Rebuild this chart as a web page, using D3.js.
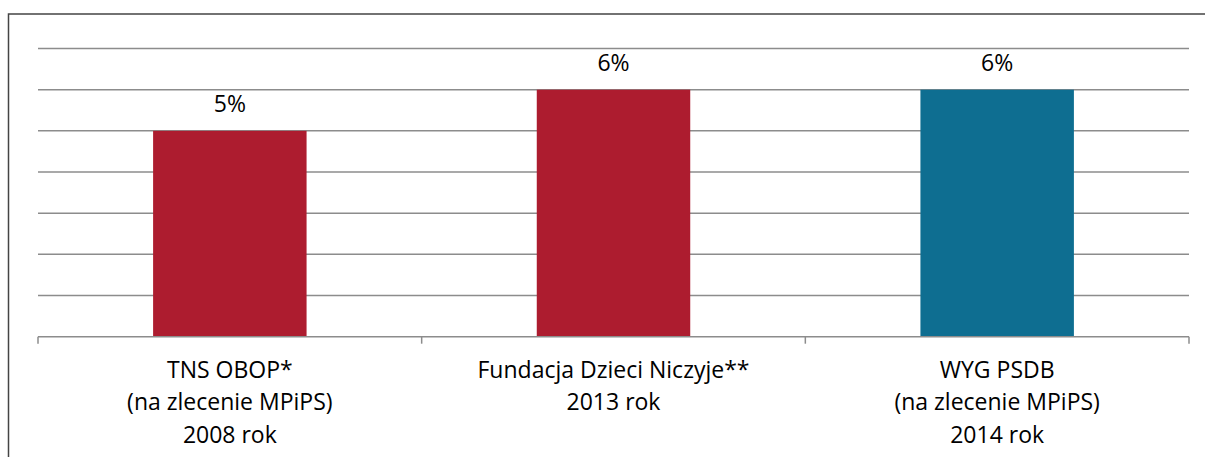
<!DOCTYPE html>
<html><head><meta charset="utf-8">
<script src="https://cdn.jsdelivr.net/npm/d3@7"></script>
<style>
html,body{margin:0;padding:0;background:#fff;}
svg{display:block;}
</style></head>
<body>
<svg id="chart" width="1205" height="457"></svg>
<script>
const categories = [
  ["TNS OBOP*", "(na zlecenie MPiPS)", "2008 rok"],
  ["Fundacja Dzieci Niczyje**", "2013 rok"],
  ["WYG PSDB", "(na zlecenie MPiPS)", "2014 rok"]
];
const values = [5, 6, 6];
const valueLabels = ["5%", "6%", "6%"];
const barColors = ["#AD1C2F", "#AD1C2F", "#0E6E91"];
const gridTicks = [1, 2, 3, 4, 5, 6, 7];

const svg = d3.select("#chart");
const x0 = 38, x1 = 1189, yTop = 48.5, yBot = 336.7;
const font = "'Open Sans', sans-serif";

// outer frame
svg.append("rect").attr("x", 8.5).attr("y", 14).attr("width", 1220).attr("height", 460)
  .attr("fill", "none").attr("stroke", "#444").attr("stroke-width", 1.5);

const x = d3.scaleBand().domain(d3.range(categories.length)).range([x0, x1]).paddingInner(0).paddingOuter(0);
const y = d3.scaleLinear().domain([0, 7]).range([yBot, yTop]);

// gridlines
svg.append("g").selectAll("line").data(gridTicks).join("line")
  .attr("x1", x0).attr("x2", x1)
  .attr("y1", d => y(d)).attr("y2", d => y(d))
  .attr("stroke", "#8c8c8c").attr("stroke-width", 1.5);

// bars
const bw = x.bandwidth() * 0.4;
svg.append("g").selectAll("rect").data(values).join("rect")
  .attr("x", (d, i) => x(i) + (x.bandwidth() - bw) / 2)
  .attr("width", bw)
  .attr("y", d => y(d))
  .attr("height", d => y(0) - y(d))
  .attr("fill", (d, i) => barColors[i]);

// value labels
svg.append("g").selectAll("text").data(values).join("text")
  .attr("x", (d, i) => x(i) + x.bandwidth() / 2)
  .attr("y", d => y(d) - 18.4)
  .attr("text-anchor", "middle")
  .attr("font-family", font).attr("font-size", 23).attr("fill", "#000")
  .text((d, i) => valueLabels[i]);

// x axis
const axis = svg.append("g").attr("transform", `translate(0,${yBot})`);
axis.append("line").attr("x1", x0).attr("x2", x1).attr("y1", 0).attr("y2", 0)
  .attr("stroke", "#8c8c8c").attr("stroke-width", 1.5);
const tickX = d3.range(categories.length + 1).map(i => i < categories.length ? x(i) : x(i - 1) + x.bandwidth());
axis.selectAll("line.tick").data(tickX).join("line").attr("class", "tick")
  .attr("x1", d => d).attr("x2", d => d).attr("y1", 0).attr("y2", 7)
  .attr("stroke", "#8c8c8c").attr("stroke-width", 1.5);

// category labels
const cl = svg.append("g").selectAll("text").data(categories).join("text")
  .attr("text-anchor", "middle")
  .attr("font-family", font).attr("font-size", 23).attr("fill", "#000");
cl.each(function(lines, i) {
  d3.select(this).selectAll("tspan").data(lines).join("tspan")
    .attr("x", x(i) + x.bandwidth() / 2)
    .attr("y", (d, j) => 377.7 + j * 32.5)
    .text(d => d);
});
</script>
</body></html>
